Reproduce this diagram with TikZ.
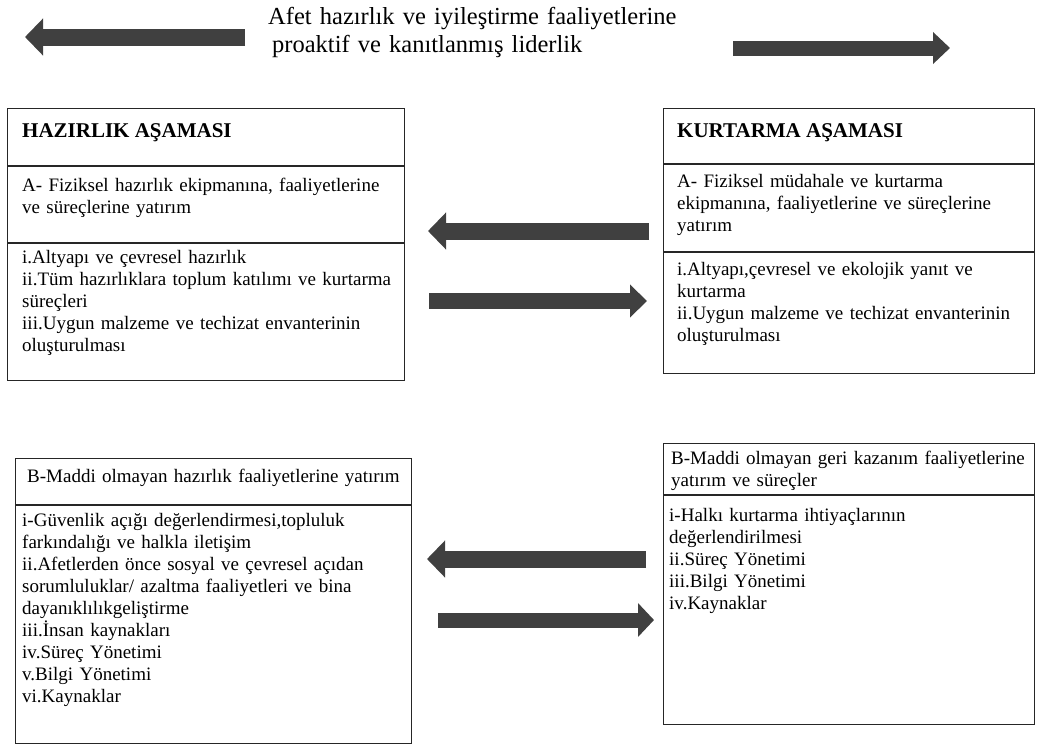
\documentclass[tikz,border=0pt]{standalone}
\usepackage{fontspec}
\setmainfont{Liberation Serif}
\usepackage{tikz}
\usetikzlibrary{arrows.meta,positioning,calc}
\definecolor{arrowgray}{RGB}{64,64,64}

\begin{document}
\begin{tikzpicture}[x=1pt,y=-1pt,
  box/.style={draw=black!85,line width=1.2pt,anchor=north west,inner sep=0pt},
  rule/.style={draw=black!85,line width=1.2pt},
  txt/.style={anchor=base west,inner sep=0pt,align=left,text width=440pt,
    font=\fontsize{19}{22}\selectfont},
  hdr/.style={anchor=base west,inner sep=0pt,font=\fontsize{21}{24}\selectfont\bfseries},
  bigarrow/.style={arrowgray,line width=17pt,-{Triangle[length=18pt,width=36pt]}}]
\useasboundingbox (0,0) rectangle (1043,745);
% title and top arrows
\node[anchor=base west,inner sep=0pt,align=left,text width=500pt,
  font=\fontsize{24.5}{28}\selectfont] (title) at (268,24)
  {Afet hazırlık ve iyileştirme faaliyetlerine\\
   \hspace*{4pt}proaktif ve kanıtlanmış liderlik};
\coordinate (tl0) at (245,37);
\coordinate (tl1) at (25,37);
\coordinate (tr0) at (733,48);
\coordinate (tr1) at (950,48);
\draw[bigarrow] (tl0) -- (tl1);
\draw[bigarrow,line width=15pt,-{Triangle[length=17pt,width=31pt]}] (tr0) -- (tr1);
% preparation phase
\node[box,minimum width=397pt,minimum height=272pt] (haz) at (7,108) {};
\draw[rule] ($(haz.north west)+(0,58)$) -- ($(haz.north east)+(0,58)$);
\draw[rule] ($(haz.north west)+(0,135)$) -- ($(haz.north east)+(0,135)$);
\node[hdr] (hazT) at ($(haz.north west)+(15,29)$) {HAZIRLIK AŞAMASI};
\node[txt] (hazA) at ($(haz.north west)+(15,83)$)
  {A- Fiziksel hazırlık ekipmanına, faaliyetlerine\\ve süreçlerine yatırım};
\node[txt] (hazL) at ($(haz.north west)+(15,155)$)
  {i.Altyapı ve çevresel hazırlık\\
   ii.Tüm hazırlıklara toplum katılımı ve kurtarma\\süreçleri\\
   iii.Uygun malzeme ve techizat envanterinin\\oluşturulması};
% rescue phase
\node[box,minimum width=371pt,minimum height=265pt] (kur) at (663,108) {};
\draw[rule] ($(kur.north west)+(0,56)$) -- ($(kur.north east)+(0,56)$);
\draw[rule] ($(kur.north west)+(0,144)$) -- ($(kur.north east)+(0,144)$);
\node[hdr] (kurT) at ($(kur.north west)+(14,29)$) {KURTARMA AŞAMASI};
\node[txt] (kurA) at ($(kur.north west)+(14,79)$)
  {A- Fiziksel müdahale ve kurtarma\\ekipmanına, faaliyetlerine ve süreçlerine\\yatırım};
\node[txt] (kurL) at ($(kur.north west)+(14,167)$)
  {i.Altyapı,çevresel ve ekolojik yanıt ve\\kurtarma\\
   ii.Uygun malzeme ve techizat envanterinin\\oluşturulması};
% arrows between the phases
\coordinate (m1a) at (649,231);
\coordinate (m1b) at (428,231);
\coordinate (m2a) at (429,301);
\coordinate (m2b) at (647,301);
\draw[bigarrow] (m1a) -- (m1b);
\draw[bigarrow,line width=16pt,-{Triangle[length=17pt,width=32pt]}] (m2a) -- (m2b);
% non-material preparation
\node[box,minimum width=396pt,minimum height=285pt] (mad) at (15,458) {};
\draw[rule] ($(mad.north west)+(0,47)$) -- ($(mad.north east)+(0,47)$);
\node[txt] (madT) at ($(mad.north west)+(12,24)$)
  {B-Maddi olmayan hazırlık faaliyetlerine yatırım};
\node[txt] (madL) at ($(mad.north west)+(7,68)$)
  {i-Güvenlik açığı değerlendirmesi,topluluk\\
   farkındalığı ve halkla iletişim\\
   ii.Afetlerden önce sosyal ve çevresel açıdan\\
   sorumluluklar/ azaltma faaliyetleri ve bina\\
   dayanıklılıkgeliştirme\\
   iii.İnsan kaynakları\\
   iv.Süreç Yönetimi\\
   v.Bilgi Yönetimi\\
   vi.Kaynaklar};
% non-material recovery
\node[box,minimum width=371pt,minimum height=281pt] (gk) at (663,443) {};
\draw[rule] ($(gk.north west)+(0,52)$) -- ($(gk.north east)+(0,52)$);
\node[txt] (gkT) at ($(gk.north west)+(8,21)$)
  {B-Maddi olmayan geri kazanım faaliyetlerine\\yatırım ve süreçler};
\node[txt] (gkL) at ($(gk.north west)+(6,78)$)
  {i-Halkı kurtarma ihtiyaçlarının\\
   değerlendirilmesi\\
   ii.Süreç Yönetimi\\
   iii.Bilgi Yönetimi\\
   iv.Kaynaklar};
% arrows between the B parts
\coordinate (b1a) at (646,559);
\coordinate (b1b) at (427,559);
\coordinate (b2a) at (438,620);
\coordinate (b2b) at (654,620);
\draw[bigarrow] (b1a) -- (b1b);
\draw[bigarrow,line width=15pt,-{Triangle[length=16pt,width=33pt]}] (b2a) -- (b2b);
\end{tikzpicture}
\end{document}
